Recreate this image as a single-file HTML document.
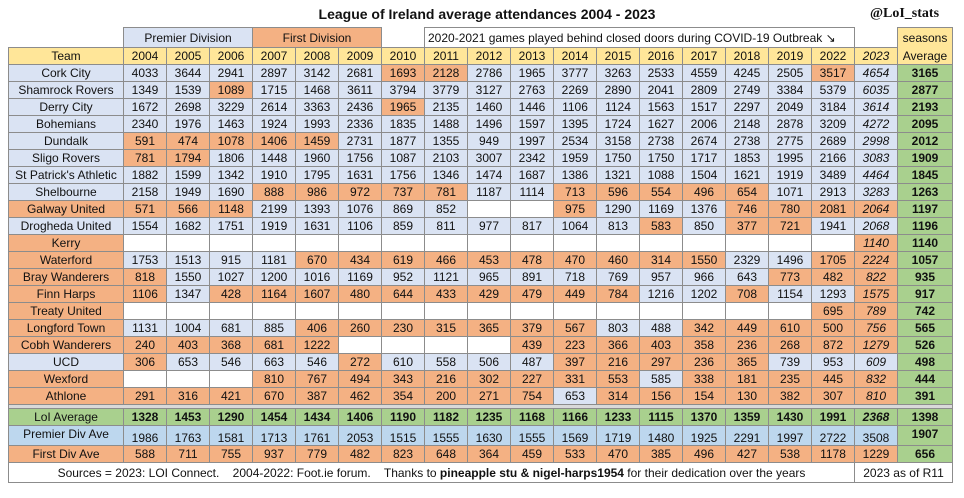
<!DOCTYPE html>
<html><head><meta charset="utf-8">
<style>
body{margin:0;width:964px;height:498px;background:#fff;position:relative;overflow:hidden;font-family:"Liberation Sans",sans-serif;font-size:12px;color:#111}
.c{position:absolute;box-sizing:border-box;border:1px solid #8c8c8c;display:flex;align-items:center;justify-content:center;white-space:nowrap}
.t{position:absolute;white-space:nowrap}
</style></head><body>
<div class="t" style="left:0;width:974px;top:6px;text-align:center;font-weight:bold;font-size:14px">League of Ireland average attendances 2004 - 2023</div>
<div class="t" style="left:870px;top:6px;font-weight:bold;font-size:14px;font-family:'Liberation Serif',serif">@LoI_stats</div>
<div id="tbl"></div>
<script>
const years=["2004","2005","2006","2007","2008","2009","2010","2011","2012","2013","2014","2015","2016","2017","2018","2019","2022","2023"];
const teams=["Cork City","Shamrock Rovers","Derry City","Bohemians","Dundalk","Sligo Rovers","St Patrick's Athletic","Shelbourne","Galway United","Drogheda United","Kerry","Waterford","Bray Wanderers","Finn Harps","Treaty United","Longford Town","Cobh Wanderers","UCD","Wexford","Athlone"];
const teamColors="BBBBBBBBOBOOOOOOOBOO";
const values=[
[4033,3644,2941,2897,3142,2681,1693,2128,2786,1965,3777,3263,2533,4559,4245,2505,3517,4654],
[1349,1539,1089,1715,1468,3611,3794,3779,3127,2763,2269,2890,2041,2809,2749,3384,5379,6035],
[1672,2698,3229,2614,3363,2436,1965,2135,1460,1446,1106,1124,1563,1517,2297,2049,3184,3614],
[2340,1976,1463,1924,1993,2336,1835,1488,1496,1597,1395,1724,1627,2006,2148,2878,3209,4272],
[591,474,1078,1406,1459,2731,1877,1355,949,1997,2534,3158,2738,2674,2738,2775,2689,2998],
[781,1794,1806,1448,1960,1756,1087,2103,3007,2342,1959,1750,1750,1717,1853,1995,2166,3083],
[1882,1599,1342,1910,1795,1631,1756,1346,1474,1687,1386,1321,1088,1504,1621,1919,3489,4464],
[2158,1949,1690,888,986,972,737,781,1187,1114,713,596,554,496,654,1071,2913,3283],
[571,566,1148,2199,1393,1076,869,852,null,null,975,1290,1169,1376,746,780,2081,2064],
[1554,1682,1751,1919,1631,1106,859,811,977,817,1064,813,583,850,377,721,1941,2068],
[null,null,null,null,null,null,null,null,null,null,null,null,null,null,null,null,null,1140],
[1753,1513,915,1181,670,434,619,466,453,478,470,460,314,1550,2329,1496,1705,2224],
[818,1550,1027,1200,1016,1169,952,1121,965,891,718,769,957,966,643,773,482,822],
[1106,1347,428,1164,1607,480,644,433,429,479,449,784,1216,1202,708,1154,1293,1575],
[null,null,null,null,null,null,null,null,null,null,null,null,null,null,null,null,695,789],
[1131,1004,681,885,406,260,230,315,365,379,567,803,488,342,449,610,500,756],
[240,403,368,681,1222,null,null,null,null,439,223,366,403,358,236,268,872,1279],
[306,653,546,663,546,272,610,558,506,487,397,216,297,236,365,739,953,609],
[null,null,null,810,767,494,343,216,302,227,331,553,585,338,181,235,445,832],
[291,316,421,670,387,462,354,200,271,754,653,314,156,154,130,382,307,810]];
const cellColors=["BBBBBBOOBBBBBBBBOB","BBOBBBBBBBBBBBBBBB","BBBBBBOBBBBBBBBBBB","BBBBBBBBBBBBBBBBBB","OOOOOBBBBBBBBBBBBB","OOBBBBBBBBBBBBBBBB","BBBBBBBBBBBBBBBBBB","BBBOOOOOBBOOOOOBBB","OOOBBBBBWWOBBBOOOO","BBBBBBBBBBBBOBOOBB","WWWWWWWWWWWWWWWWWO","BBBBOOOOOOOOOOBBOO","OBBBBBBBBBBBBBBOOO","OBOOOOOOOOOOBBOBBO","WWWWWWWWWWWWWWWWOO","BBBBOOOOOOOBBOOOOO","OOOOOWWWWOOOOOOOOO","OBBBBOBBBBOOOOOBBB","WWWOOOOOOOOOBOOOOO","OOOOOOOOOOBOOOOOOO"];
const seasonAvg=[3165,2877,2193,2095,2012,1909,1845,1263,1197,1196,1140,1057,935,917,742,565,526,498,444,391];
const loiAvg=[1328,1453,1290,1454,1434,1406,1190,1182,1235,1168,1166,1233,1115,1370,1359,1430,1991,2368];
const premAvg=[1986,1763,1581,1713,1761,2053,1515,1555,1630,1555,1569,1719,1480,1925,2291,1997,2722,3508];
const firstAvg=[588,711,755,937,779,482,823,648,364,459,533,470,385,496,427,538,1178,1229];
const summaryAvg=[1398,1907,656];

const COL={B:"#dae3f3",O:"#f4b183",W:"#ffffff",Y:"#ffe699",G:"#a9d08e",L:"#bdd7ee"};
const tbl=document.getElementById('tbl');
const X0=123,CW=43,AVX=897,AVW=55;
function colX(j){return X0+j*CW;}
function cell(x,y,w,h,bg,txt,style){
  const d=document.createElement('div');d.className='c';
  d.style.cssText+=`left:${x}px;top:${y}px;width:${w+1}px;height:${h+1}px;background:${bg};`+(style||'');
  d.textContent=txt==null?'':txt;tbl.appendChild(d);return d;
}
let e;
e=cell(123,27,129,20,COL.B,'Premier Division');


e=cell(252,27,129,20,COL.O,'First Division');


e=cell(424,27,430,20,COL.W,'2020-2021 games played behind closed doors during COVID-19 Outbreak  \u2198','justify-content:flex-start;padding-left:3px;');


e=cell(AVX,27,AVW,20,COL.Y,'seasons');


e=cell(8,47,115,17,COL.Y,'Team');


years.forEach((y,j)=>{
  const h=cell(colX(j),47,CW,17,COL.Y,y,j===17?'font-style:italic;':'');
  
  
});
e=cell(AVX,47,AVW,17,COL.Y,'Average','border-top:none;');


teams.forEach((t,i)=>{
  const y=64+i*17;
  const tc=cell(8,y,115,17,COL[teamColors[i]],t);
  
  
  values[i].forEach((v,j)=>{
    const c=cell(colX(j),y,CW,17,COL[cellColors[i][j]],v,j===17?'font-style:italic;':'');
    
    
  });
  const a=cell(AVX,y,AVW,17,COL.G,seasonAvg[i],'font-weight:bold;');
  
  
});
// double separator
e=cell(8,404,944,4,'#d9d9d9','');


const sumRows=[["LoI Average",loiAvg,408,17,COL.G,COL.G,'font-weight:bold;'],["Premier Div Ave",premAvg,425,20,COL.L,COL.G,'padding-top:5px;'],["First Div Ave",firstAvg,445,17,COL.O,COL.O,'']];
sumRows.forEach((r,k)=>{
  const lc=cell(8,r[2],115,r[3],r[4],r[0],k===1?'padding-bottom:4px;':'');
  
  
  r[1].forEach((v,j)=>{
    const c=cell(colX(j),r[2],CW,r[3],r[4],v,r[6]+(j===17&&k===0?'font-style:italic;':''));
    
    
  });
  const a=cell(AVX,r[2],AVW,r[3],COL.G,summaryAvg[k],'font-weight:bold;'+(k===1?'padding-bottom:4px;':''));
  
  
});
e=cell(8,462,846,20,COL.W,'');
e.innerHTML='Sources = 2023: LOI Connect. &nbsp;&nbsp; 2004-2022: Foot.ie forum. &nbsp;&nbsp; Thanks to <b>&nbsp;pineapple stu &amp; nigel-harps1954&nbsp;</b> for their dedication over the years';


e=cell(854,462,98,20,COL.W,'2023 as of R11');


</script>
</body></html>
